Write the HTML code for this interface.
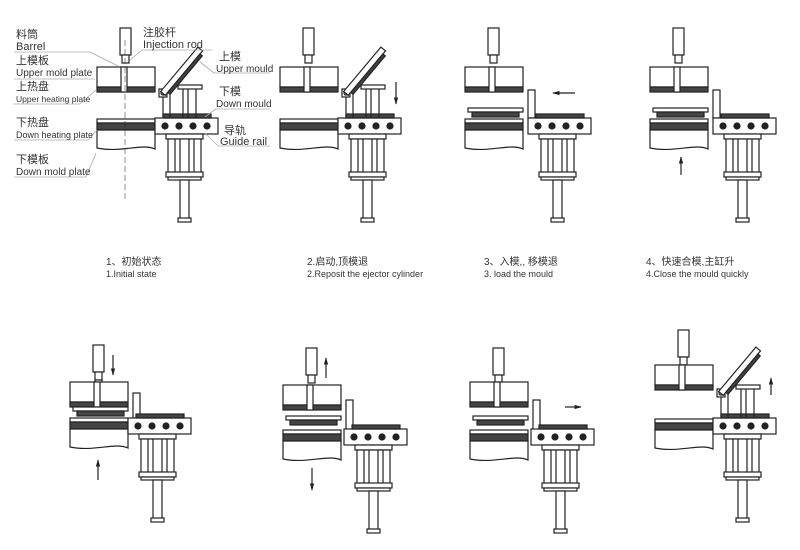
<!DOCTYPE html><html><head><meta charset="utf-8"><style>body{margin:0;background:#fff}svg{display:block}text{font-family:"Liberation Sans","Noto Sans CJK SC",sans-serif;fill:#333}</style></head><body>
<svg width="800" height="550" viewBox="0 0 800 550" xmlns="http://www.w3.org/2000/svg" stroke="#222" stroke-width="1.2" fill="none">
<defs>
<g id="rod"><rect x="0" y="0" width="11" height="27" fill="#fff"/><rect x="2" y="27" width="7" height="8" fill="#fff"/></g>
<g id="up"><rect x="0" y="0" width="58" height="20" fill="#fff"/><rect x="0" y="20" width="58" height="5" fill="#444"/><rect x="24" y="0" width="6" height="25" fill="#fff"/></g>
<g id="dn"><rect x="0" y="0" width="58" height="4" fill="#fff"/><rect x="0" y="4" width="58" height="7" fill="#444"/><path d="M0 11H58V30C45 24 25 34 0 29Z" fill="#fff"/></g>
<g id="rail"><rect x="0" y="0" width="63" height="16" fill="#fff"/><rect x="8" y="-4" width="48" height="4" fill="#444"/><circle cx="10" cy="8" r="3" fill="#222"/><circle cx="24" cy="8" r="3" fill="#222"/><circle cx="38" cy="8" r="3" fill="#222"/><circle cx="52" cy="8" r="3" fill="#222"/></g>
<g id="cyl"><rect x="-1" y="0" width="37" height="5" fill="#fff"/><rect x="1" y="5" width="33" height="36" fill="#fff"/><line x1="8" y1="5" x2="8" y2="41"/><line x1="13" y1="5" x2="13" y2="41"/><line x1="22" y1="5" x2="22" y2="41"/><line x1="27" y1="5" x2="27" y2="41"/><rect x="-1" y="38" width="37" height="5" fill="#fff"/><rect x="1" y="43" width="33" height="3" fill="#fff"/><rect x="13" y="46" width="9" height="40" fill="#fff"/><rect x="11" y="84" width="13" height="4" fill="#fff"/></g>
<g id="mould"><rect x="0" y="0" width="55" height="4" fill="#fff"/><rect x="4" y="4" width="47" height="5" fill="#444"/></g>
<g id="tilt"><rect x="159" y="89" width="8" height="8" fill="#fff"/><circle cx="163" cy="93" r="2"/><line x1="163" y1="97" x2="163" y2="118"/><line x1="170" y1="92" x2="170" y2="118"/><line x1="183" y1="88" x2="183" y2="118"/><line x1="188" y1="88" x2="188" y2="118"/><line x1="196" y1="88" x2="196" y2="118"/><rect x="178" y="85" width="24" height="4" fill="#fff"/><g transform="rotate(-50 166 96)"><rect x="166" y="89" width="58" height="6" fill="#fff"/><rect x="170" y="95" width="50" height="3" fill="#444"/></g></g>
<marker id="ar" viewBox="0 0 10 10" refX="9" refY="5" markerWidth="6" markerHeight="7" orient="auto"><path d="M0 2L10 5L0 8Z" fill="#222" stroke="none"/></marker>
</defs>
<g><use href="#rod" x="120" y="28"/><use href="#up" x="97" y="67"/><use href="#dn" x="97" y="119"/><use href="#rail" x="155" y="118"/><use href="#cyl" x="167" y="134"/><use href="#tilt"/><line x1="125" y1="40" x2="125" y2="200" stroke-dasharray="6 3" stroke-width="0.5"/></g>
<g transform="translate(183,0)"><use href="#rod" x="120" y="28"/><use href="#up" x="97" y="67"/><use href="#dn" x="97" y="119"/><use href="#rail" x="155" y="118"/><use href="#cyl" x="167" y="134"/><use href="#tilt"/><line x1="213" y1="82" x2="213" y2="104" marker-end="url(#ar)"/></g>
<g transform="translate(368,0)"><use href="#rod" x="120" y="28"/><use href="#up" x="97" y="67"/><use href="#mould" x="100" y="108"/><use href="#dn" x="97" y="119"/><rect x="160" y="90" width="7" height="28" fill="#fff"/><use href="#rail" x="160" y="118"/><use href="#cyl" x="172" y="134"/><line x1="207" y1="93" x2="185" y2="93" marker-end="url(#ar)"/></g>
<g transform="translate(553,0)"><use href="#rod" x="120" y="28"/><use href="#up" x="97" y="67"/><use href="#mould" x="100" y="108"/><use href="#dn" x="97" y="119"/><rect x="160" y="90" width="7" height="28" fill="#fff"/><use href="#rail" x="160" y="118"/><use href="#cyl" x="172" y="134"/><line x1="128" y1="175" x2="128" y2="157" marker-end="url(#ar)"/></g>
<g transform="translate(-27,315)"><use href="#rod" x="120" y="30"/><rect x="122" y="65" width="7" height="30" fill="#fff"/><use href="#up" x="97" y="67"/><use href="#mould" x="100" y="92"/><use href="#dn" x="97" y="103"/><rect x="160" y="78" width="7" height="25" fill="#fff"/><use href="#rail" x="155" y="103"/><use href="#cyl" x="167" y="119"/><line x1="140" y1="40" x2="140" y2="60" marker-end="url(#ar)"/><line x1="125" y1="165" x2="125" y2="145" marker-end="url(#ar)"/></g>
<g transform="translate(186,318)"><use href="#rod" x="120" y="30"/><use href="#up" x="97" y="67"/><use href="#mould" x="100" y="98"/><use href="#dn" x="97" y="112"/><rect x="160" y="82" width="7" height="30" fill="#fff"/><use href="#rail" x="158" y="111"/><use href="#cyl" x="170" y="127"/><line x1="140" y1="60" x2="140" y2="40" marker-end="url(#ar)"/><line x1="126" y1="150" x2="126" y2="172" marker-end="url(#ar)"/></g>
<g transform="translate(373,318)"><use href="#rod" x="120" y="30"/><use href="#up" x="97" y="64"/><use href="#mould" x="100" y="98"/><use href="#dn" x="97" y="112"/><rect x="160" y="82" width="7" height="30" fill="#fff"/><use href="#rail" x="158" y="111"/><use href="#cyl" x="170" y="127"/><line x1="192" y1="89" x2="208" y2="89" marker-end="url(#ar)"/></g>
<g transform="translate(558,300)"><use href="#rod" x="120" y="30"/><use href="#up" x="97" y="65"/><use href="#dn" x="97" y="119"/><use href="#rail" x="155" y="118"/><use href="#cyl" x="167" y="134"/><use href="#tilt"/><line x1="213" y1="95" x2="213" y2="78" marker-end="url(#ar)"/></g>
<g stroke="#aaa" stroke-width="0.8">
<line x1="14" y1="52" x2="90" y2="52"/><line x1="90" y1="52" x2="118" y2="66"/>
<line x1="14" y1="79" x2="95" y2="79"/>
<line x1="14" y1="104" x2="80" y2="104"/><line x1="80" y1="104" x2="96" y2="90"/>
<line x1="14" y1="140" x2="88" y2="140"/><line x1="88" y1="140" x2="97" y2="130"/>
<line x1="14" y1="177" x2="86" y2="177"/><line x1="86" y1="177" x2="96" y2="153"/>
<line x1="142" y1="50" x2="212" y2="50"/><line x1="142" y1="50" x2="130" y2="60"/>
<line x1="214" y1="73" x2="270" y2="73"/><line x1="214" y1="73" x2="200" y2="62"/>
<line x1="216" y1="109" x2="270" y2="109"/><line x1="216" y1="109" x2="205" y2="117"/>
<line x1="218" y1="146" x2="270" y2="146"/><line x1="218" y1="146" x2="205" y2="133"/>
</g>
<g stroke="none">
<text x="16" y="38" font-size="11">料筒</text><text x="16" y="50" font-size="11">Barrel</text>
<text x="16" y="64" font-size="11">上模板</text><text x="16" y="76" font-size="10">Upper mold plate</text>
<text x="16" y="90" font-size="11">上热盘</text><text x="16" y="102" font-size="8.5">Upper heating plate</text>
<text x="16" y="126" font-size="11">下热盘</text><text x="16" y="138" font-size="9">Down heating plate</text>
<text x="16" y="163" font-size="11">下模板</text><text x="16" y="175" font-size="10">Down mold plate</text>
<text x="143" y="36" font-size="11">注胶杆</text><text x="143" y="48" font-size="11">Injection rod</text>
<text x="219" y="60" font-size="11">上模</text><text x="216" y="72" font-size="10">Upper mould</text>
<text x="219" y="95" font-size="11">下模</text><text x="216" y="107" font-size="10">Down mould</text>
<text x="224" y="134" font-size="11">导轨</text><text x="220" y="145" font-size="11">Guide rail</text>
<text x="106" y="265" font-size="10">1、初始状态</text><text x="106" y="277" font-size="9">1.Initial state</text>
<text x="307" y="265" font-size="10">2.启动,顶模退</text><text x="307" y="277" font-size="9">2.Reposit the ejector cylinder</text>
<text x="484" y="265" font-size="10">3、入模,, 移模退</text><text x="484" y="277" font-size="9">3.  load the mould</text>
<text x="646" y="265" font-size="10">4、快速合模,主缸升</text><text x="646" y="277" font-size="9">4.Close the mould quickly</text>
</g>
</svg>
</body></html>
